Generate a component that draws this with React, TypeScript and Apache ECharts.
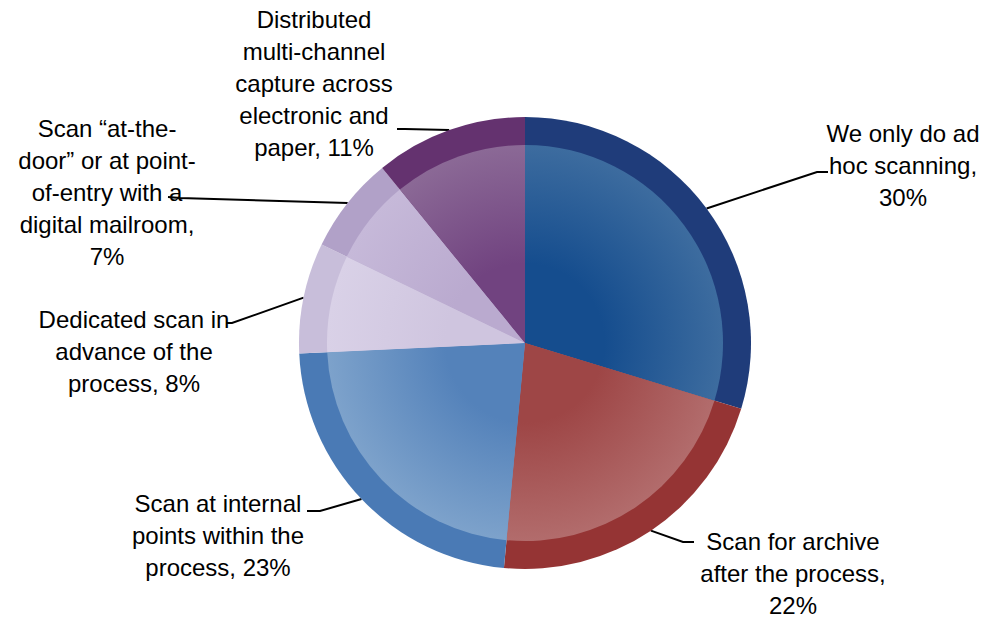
import React, { useEffect, useRef } from "react";
import * as echarts from "echarts";

// ---- data ----
const categories = [
  "We only do ad\nhoc scanning,",
  "Scan for archive\nafter the process,",
  "Scan at internal\npoints within the\nprocess,",
  "Dedicated scan in\nadvance of the\nprocess,",
  "Scan \u201Cat-the-\ndoor\u201D or at point-\nof-entry with a\ndigital mailroom,",
  "Distributed\nmulti-channel\ncapture across\nelectronic and\npaper,",
];
const values = [30, 22, 23, 8, 7, 11];
const percentOnNewLine = [true, true, false, false, true, false];

// ---- styling / layout ----
const outerColors = ["#1F3C7A", "#953434", "#4A7AB5", "#C8BEDA", "#B1A1C8", "#64326F"];
const innerCenter = ["#154D8E", "#9E4646", "#5482BA", "#CFC5DF", "#BAAACF", "#714380"];
const innerEdge = ["#3D6C9F", "#B26C6C", "#7DA2CB", "#D9D1E7", "#C6B9D9", "#8B6996"];

const CX = 525;
const CY = 343;
const R_OUT = 226;
const R_IN = 198;

// label block centre and leader elbow/end per slice
const labelPos = [
  [903, 165],
  [793, 573],
  [218, 535],
  [134, 351],
  [107, 192],
  [314, 83],
];
const leaderElbow = [
  [817, 172],
  [683, 542],
  [320, 511],
  [232, 323],
  [180, 198],
  [405, 129],
];
const leaderEnd = [
  [828, 172],
  [694, 542],
  [307, 511],
  [226, 323],
  [168, 197],
  [397, 129],
];

export default function App() {
  const ref = useRef<HTMLDivElement>(null);

  useEffect(() => {
    if (!ref.current) return;
    const chart = echarts.init(ref.current, null, { renderer: "svg" });

    const outerData = values.map((v, i) => ({
      value: v,
      name: categories[i],
      itemStyle: { color: outerColors[i] },
    }));
    const innerData = values.map((v, i) => ({
      value: v,
      name: categories[i],
      itemStyle: {
        color: {
          type: "radial",
          x: CX,
          y: CY,
          r: R_IN,
          global: true,
          colorStops: [
            { offset: 0, color: innerCenter[i] },
            { offset: 0.4, color: innerCenter[i] },
            { offset: 1, color: innerEdge[i] },
          ],
        },
      },
    }));

    chart.setOption({
      animation: false,
      backgroundColor: "#ffffff",
      series: [
        {
          type: "pie",
          center: [CX, CY],
          radius: [0, R_OUT],
          startAngle: 90,
          clockwise: true,
          avoidLabelOverlap: false,
          data: outerData,
          itemStyle: { borderWidth: 0 },
          emphasis: { disabled: true },
          label: {
            show: true,
            position: "outside",
            formatter: (p: any) =>
              `${p.name}${percentOnNewLine[p.dataIndex] ? "\n" : " "}${p.value}%`,
            fontFamily: "'Liberation Sans', Arial, sans-serif",
            fontSize: 24,
            lineHeight: 32,
            color: "#000000",
            align: "center",
          },
          labelLine: {
            show: true,
            length: 20,
            length2: 10,
            smooth: false,
            lineStyle: { color: "#000000", width: 2 },
          },
          labelLayout: (params: any) => {
            const i = params.dataIndex;
            const start = params.labelLinePoints
              ? params.labelLinePoints[0]
              : [CX, CY];
            return {
              x: labelPos[i][0],
              y: labelPos[i][1],
              align: "center",
              verticalAlign: "middle",
              moveOverlap: "none",
              labelLinePoints: [start, leaderElbow[i], leaderEnd[i]],
            };
          },
        },
        {
          type: "pie",
          center: [CX, CY],
          radius: [0, R_IN],
          startAngle: 90,
          clockwise: true,
          silent: true,
          data: innerData,
          itemStyle: { borderWidth: 0 },
          label: { show: false },
          labelLine: { show: false },
        },
      ],
    });

    return () => chart.dispose();
  }, []);

  return (
    <div
      ref={ref}
      style={{ position: "fixed", left: 0, top: 0, width: 987, height: 618 }}
    />
  );
}
